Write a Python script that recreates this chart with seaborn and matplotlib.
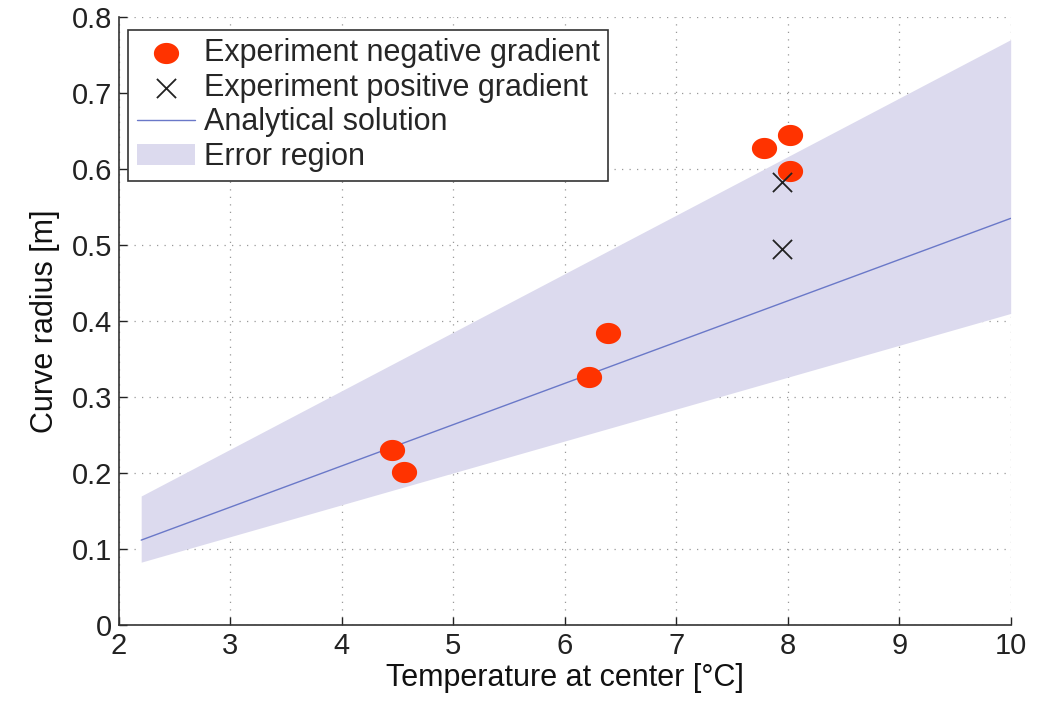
import matplotlib
matplotlib.use("Agg")
import matplotlib.pyplot as plt
import seaborn as sns
import numpy as np
import pandas as pd

# Data
neg_x = [4.45, 4.56, 6.22, 6.39, 7.79, 8.02, 8.02]
neg_y = [0.230, 0.201, 0.326, 0.384, 0.628, 0.645, 0.597]
pos_x = [7.95, 7.95]
pos_y = [0.583, 0.495]
line_x = [2.2, 10.0]
line_y = [0.112, 0.535]
err_lower = [0.083, 0.410]
err_upper = [0.170, 0.770]
xticks = [2, 3, 4, 5, 6, 7, 8, 9, 10]
yticks = [0, 0.1, 0.2, 0.3, 0.4, 0.5, 0.6, 0.7, 0.8]

sns.set_theme(style="white")
plt.rcParams['font.family'] = ['Liberation Sans', 'DejaVu Sans']

fig = plt.figure(figsize=(10.43, 7.01), dpi=100)
ax = fig.add_axes([0.114, 0.108, 0.855, 0.868])

# slightly wide ellipse marker
t = np.linspace(0, 2 * np.pi, 60)
ell = list(zip(np.cos(t), 0.84 * np.sin(t)))

ax.fill_between(line_x, err_lower, err_upper, color="#dcdaee", linewidth=0,
                label="Error region", zorder=1)
sns.lineplot(x=line_x, y=line_y, ax=ax, color="#6a78c8", linewidth=1.0,
             label="Analytical solution", zorder=2)
sns.scatterplot(x=neg_x, y=neg_y, ax=ax, color="#ff3300", s=330, linewidth=0,
                marker=ell, label="Experiment negative gradient", zorder=3)
sns.scatterplot(x=pos_x, y=pos_y, ax=ax, color="#222222", marker="x", s=190,
                linewidth=1.3, label="Experiment positive gradient", zorder=4)

ax.set_xlim(2, 10)
ax.set_ylim(0, 0.8)
ax.set_xticks(xticks)
ax.set_yticks(yticks)
ax.set_xticklabels([str(t) for t in xticks])
ax.set_yticklabels([f"{t:g}" for t in yticks])
ax.tick_params(axis="both", direction="in", length=6, width=1, labelsize=21,
               bottom=True, left=True, colors="#222222", pad=5)
ax.grid(True, linestyle=(0, (1, 5)), color="#999999", linewidth=0.9)
for s in ["top", "right"]:
    ax.spines[s].set_visible(False)
for s in ["left", "bottom"]:
    ax.spines[s].set_color("#333333")
    ax.spines[s].set_linewidth(1.2)

ax.set_xlabel("Temperature at center [°C]", fontsize=22, color="#111111", labelpad=2)
ax.set_ylabel("Curve radius [m]", fontsize=22, color="#111111", labelpad=8)

handles, labels = ax.get_legend_handles_labels()
order = ["Experiment negative gradient", "Experiment positive gradient",
         "Analytical solution", "Error region"]
hmap = dict(zip(labels, handles))
leg = ax.legend([hmap[o] for o in order], order, loc="upper left",
                bbox_to_anchor=(0.0, 0.994), fontsize=22, frameon=True,
                fancybox=False, edgecolor="#333333", framealpha=1,
                borderpad=0.28, labelspacing=0.15, handlelength=1.9,
                handletextpad=0.3, borderaxespad=0.3)
leg.get_frame().set_linewidth(1.2)

fig.savefig("out.png", dpi=100)
